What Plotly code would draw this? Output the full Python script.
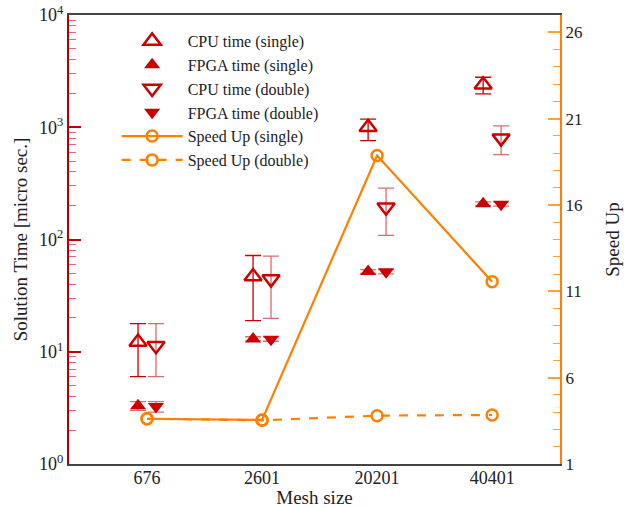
import plotly.graph_objects as go

mesh = ["676", "2601", "20201", "40401"]
pos = [0, 1, 2, 3]

cpu_single = [12.2, 46.8, 1000, 2390]
cpu_single_hi = [17.8, 72, 1180, 2790]
cpu_single_lo = [6.0, 18.9, 760, 1980]

cpu_double = [11.3, 44.4, 194, 800]
cpu_double_hi = [17.8, 71, 287, 1028]
cpu_double_lo = [6.0, 19.8, 109, 571]

fpga_single = [3.3, 13.0, 51.9, 208]
fpga_single_hi = [3.6, 13.6, 54, 216]
fpga_single_lo = [3.0, 12.5, 50, 200]

fpga_double = [3.26, 12.9, 51.5, 206]
fpga_double_hi = [3.6, 13.6, 54, 216]
fpga_double_lo = [2.9, 12.4, 49.5, 198]

speedup_single = [3.62, 3.55, 18.86, 11.56]
speedup_double = [3.62, 3.53, 3.80, 3.84]

RED = "#cc0000"
PINK = "#e06a6a"
ORANGE = "#ff8000"
FONT = "Liberation Serif"
off = 0.078

def err(vals, hi, lo, color):
    return dict(type="data", symmetric=False,
                array=[h - v for h, v in zip(hi, vals)],
                arrayminus=[v - l for v, l in zip(vals, lo)],
                color=color, thickness=1.3, width=8)

fig = go.Figure()
fig.add_trace(go.Scatter(x=[p - off for p in pos], y=cpu_single, mode="markers",
    name="CPU time (single)",
    marker=dict(symbol="triangle-up-open", size=15, color=RED, line=dict(width=2.5, color=RED)),
    error_y=err(cpu_single, cpu_single_hi, cpu_single_lo, RED)))
fig.add_trace(go.Scatter(x=[p - off for p in pos], y=fpga_single, mode="markers",
    name="FPGA time (single)",
    marker=dict(symbol="triangle-up", size=14, color=RED),
    error_y=err(fpga_single, fpga_single_hi, fpga_single_lo, PINK)))
fig.add_trace(go.Scatter(x=[p + off for p in pos], y=cpu_double, mode="markers",
    name="CPU time (double)",
    marker=dict(symbol="triangle-down-open", size=15, color=RED, line=dict(width=2.5, color=RED)),
    error_y=err(cpu_double, cpu_double_hi, cpu_double_lo, PINK)))
fig.add_trace(go.Scatter(x=[p + off for p in pos], y=fpga_double, mode="markers",
    name="FPGA time (double)",
    marker=dict(symbol="triangle-down", size=14, color=RED),
    error_y=err(fpga_double, fpga_double_hi, fpga_double_lo, PINK)))
fig.add_trace(go.Scatter(x=pos, y=speedup_single, mode="lines+markers", yaxis="y2",
    name="Speed Up (single)",
    line=dict(color=ORANGE, width=2.2),
    marker=dict(symbol="circle-open", size=11, color=ORANGE, line=dict(width=2.5, color=ORANGE))))
fig.add_trace(go.Scatter(x=pos, y=speedup_double, mode="lines+markers", yaxis="y2",
    name="Speed Up (double)",
    line=dict(color=ORANGE, width=2.2, dash="dash"),
    marker=dict(symbol="circle-open", size=11, color=ORANGE, line=dict(width=2.5, color=ORANGE))))

fig.update_layout(
    width=632, height=508,
    margin=dict(l=69, r=72, t=15, b=44, autoexpand=False),
    paper_bgcolor="white", plot_bgcolor="white",
    font=dict(family=FONT, size=17, color="#222"),
    showlegend=True,
    legend=dict(x=0.097, y=0.98, xanchor="left", yanchor="top",
                bgcolor="rgba(0,0,0,0)", font=dict(family=FONT, size=16, color="#222"),
                tracegroupgap=0, itemwidth=61),
    xaxis=dict(range=[-0.678, 3.59], tickmode="array", tickvals=pos, ticktext=mesh,
               showgrid=False, zeroline=False, showline=True, linecolor="#444", linewidth=2,
               mirror=True, ticks="", tickfont=dict(size=18), automargin=False,
               ticklabelstandoff=-4,
               title=dict(text="Mesh size", font=dict(size=19), standoff=0)),
    yaxis=dict(type="log", range=[0, 4], tickmode="array",
               tickvals=[1, 10, 100, 1000, 10000],
               ticktext=["10<sup>0</sup>", "10<sup>1</sup>", "10<sup>2</sup>", "10<sup>3</sup>", "10<sup>4</sup>"],
               showgrid=False, zeroline=False, showline=True, linecolor="#b00000", linewidth=2,
               ticks="inside", ticklen=12, tickwidth=1.5, tickcolor="#c00000",
               minor=dict(tickvals=[v * 10 ** d for d in range(4) for v in range(2, 10)],
                          ticks="inside", ticklen=7, tickcolor="#e07070", tickwidth=1.3, showgrid=False),
               tickfont=dict(size=18), automargin=False,
               title=dict(text="Solution Time [micro sec.]", font=dict(size=19), standoff=6)),
    yaxis2=dict(overlaying="y", side="right", range=[1, 27], tickmode="array",
                tickvals=[1, 6, 11, 16, 21, 26],
                showgrid=False, zeroline=False, showline=True, linecolor=ORANGE, linewidth=2,
                ticks="inside", ticklen=12, tickwidth=1.5, tickcolor="#ffa040",
                minor=dict(dtick=1, ticks="inside", ticklen=7, tickcolor="#ffa040", tickwidth=1.3, showgrid=False),
                tickfont=dict(size=17), automargin=False,
                title=dict(text="Speed Up", font=dict(size=19), standoff=24)),
)

fig.write_html("out.html")
